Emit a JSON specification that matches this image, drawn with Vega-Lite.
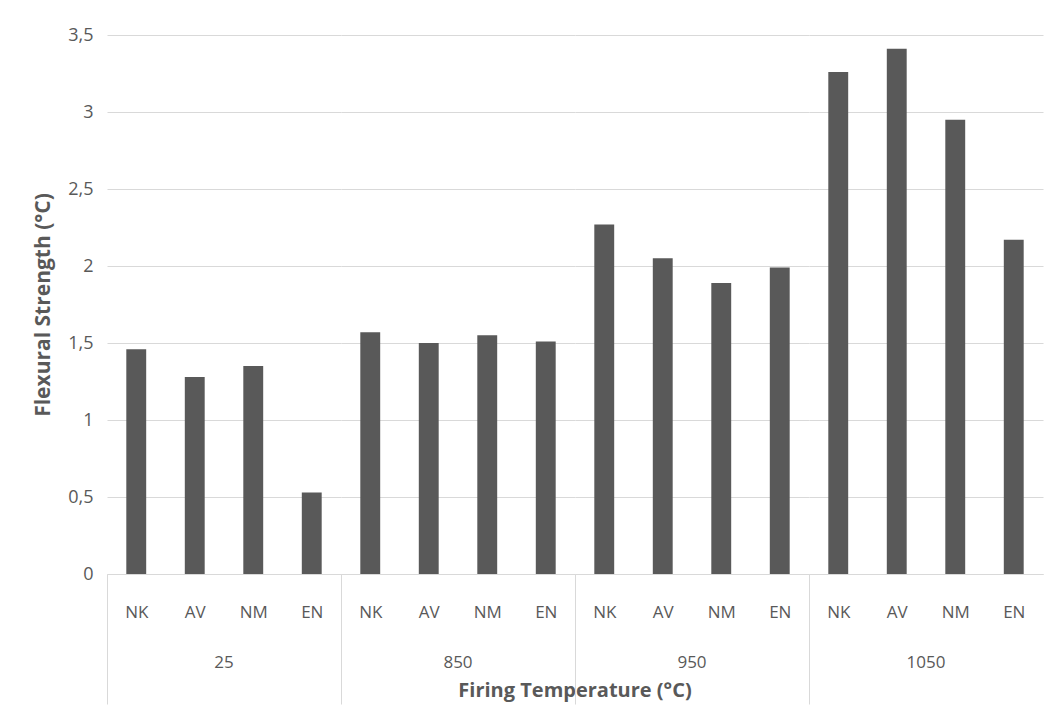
{
  "$schema": "https://vega.github.io/schema/vega-lite/v6.json",
  "padding": {"left": 32, "top": 26, "right": 10, "bottom": 5},
  "background": "white",
  "data": {
    "values": [
      {"temp": "25", "sample": "NK", "value": 1.46},
      {"temp": "25", "sample": "AV", "value": 1.28},
      {"temp": "25", "sample": "NM", "value": 1.35},
      {"temp": "25", "sample": "EN", "value": 0.53},
      {"temp": "850", "sample": "NK", "value": 1.57},
      {"temp": "850", "sample": "AV", "value": 1.50},
      {"temp": "850", "sample": "NM", "value": 1.55},
      {"temp": "850", "sample": "EN", "value": 1.51},
      {"temp": "950", "sample": "NK", "value": 2.27},
      {"temp": "950", "sample": "AV", "value": 2.05},
      {"temp": "950", "sample": "NM", "value": 1.89},
      {"temp": "950", "sample": "EN", "value": 1.99},
      {"temp": "1050", "sample": "NK", "value": 3.26},
      {"temp": "1050", "sample": "AV", "value": 3.41},
      {"temp": "1050", "sample": "NM", "value": 2.95},
      {"temp": "1050", "sample": "EN", "value": 2.17}
    ]
  },
  "facet": {
    "column": {
      "field": "temp",
      "type": "nominal",
      "sort": ["25", "850", "950", "1050"],
      "title": "Firing Temperature (°C)",
      "header": {
        "labelOrient": "bottom",
        "titleOrient": "bottom",
        "labelFont": "Open Sans",
        "labelFontSize": 17,
        "labelColor": "#595959",
        "labelPadding": -50,
        "titleFont": "Open Sans",
        "titleFontSize": 20,
        "titleFontWeight": "bold",
        "titleColor": "#595959",
        "titlePadding": -34
      }
    }
  },
  "spacing": 0,
  "spec": {
    "width": 234,
    "height": 539,
    "mark": {"type": "bar", "color": "#595959"},
    "encoding": {
      "x": {
        "field": "sample",
        "type": "nominal",
        "sort": ["NK", "AV", "NM", "EN"],
        "title": null,
        "scale": {"paddingInner": 0.66, "paddingOuter": 0.33},
        "axis": {
          "labelAngle": 0,
          "labelFont": "Open Sans",
          "labelFontSize": 17,
          "labelColor": "#595959",
          "labelPadding": -100,
          "labelOffset": 29.25,
          "domainColor": "#d9d9d9",
          "tickSize": 130,
          "tickOffset": -29.25,
          "tickColor": "#d9d9d9",
          "tickOpacity": {"condition": {"test": "datum.index == 0", "value": 1}, "value": 0}
        }
      },
      "y": {
        "field": "value",
        "type": "quantitative",
        "title": "Flexural Strength (°C)",
        "scale": {"domain": [0, 3.5]},
        "axis": {
          "values": [0, 0.5, 1, 1.5, 2, 2.5, 3, 3.5],
          "labelExpr": "replace(format(datum.value, '.1~f'), '.', ',')",
          "labelFont": "Open Sans",
          "labelFontSize": 18,
          "labelColor": "#595959",
          "labelPadding": 14,
          "ticks": false,
          "domain": false,
          "gridColor": "#d9d9d9",
          "titleFont": "Open Sans",
          "titleFontSize": 21,
          "titleFontWeight": "bold",
          "titleColor": "#595959",
          "titlePadding": 14
        }
      }
    }
  },
  "config": {"view": {"stroke": null}}
}
